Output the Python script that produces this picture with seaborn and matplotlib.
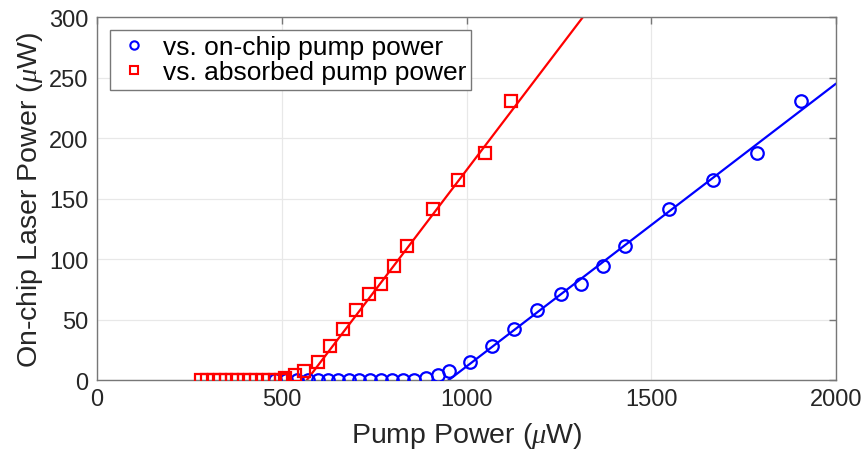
import numpy as np
import matplotlib
matplotlib.use("Agg")
import matplotlib.pyplot as plt
from matplotlib.lines import Line2D
import seaborn as sns

onchip_pump = [482, 512, 541, 570, 599, 625, 652, 681, 710, 739, 769, 798, 828, 857,
               891, 924, 953, 1010, 1070, 1129, 1191, 1256, 1310, 1369, 1430, 1548,
               1667, 1785, 1905]
absorbed_pump = [281, 298, 316, 332, 349, 364, 380, 397, 414, 431, 448, 465, 482, 499,
                 509, 535, 560, 598, 631, 667, 701, 736, 769, 805, 839, 909,
                 978, 1051, 1120]
laser_power = [0, 0, 0, 0, 0, 0, 0, 0, 0, 0, 0, 0, 0, 0,
               2, 4.5, 7.5, 14.5, 28, 42, 57.5, 71, 79, 94, 111, 141,
               165, 188, 231]

# linear fits above threshold (two end points each)
onchip_fit_x = [940, 2000]
onchip_fit_y = [-2.8, 245]
absorbed_fit_x = [555, 1330]
absorbed_fit_y = [-5.2, 306]

x_ticks = [0, 500, 1000, 1500, 2000]
y_ticks = [0, 50, 100, 150, 200, 250, 300]

sns.set_theme(style="whitegrid")
plt.rcParams['font.family'] = ['Liberation Sans', 'DejaVu Sans']
plt.rcParams['mathtext.fontset'] = 'custom'
plt.rcParams['mathtext.it'] = 'Liberation Serif:italic'

fig = plt.figure(figsize=(8.64, 4.52), dpi=100)
ax = fig.add_axes([0.1123, 0.157, 0.8553, 0.803])

text_col = '#262626'
edge_col = '#777777'

sns.lineplot(x=onchip_fit_x, y=onchip_fit_y, color='#0000ff', linewidth=1.6, ax=ax)
sns.lineplot(x=absorbed_fit_x, y=absorbed_fit_y, color='#ff0000', linewidth=1.6, ax=ax)

sns.lineplot(x=onchip_pump, y=laser_power, marker='o', linestyle='none',
             markersize=9, markerfacecolor='none', markeredgecolor='#0000ff',
             markeredgewidth=1.6, color='#0000ff', ax=ax, zorder=3)
sns.lineplot(x=absorbed_pump, y=laser_power, marker='s', linestyle='none',
             markersize=8, markerfacecolor='none', markeredgecolor='#ff0000',
             markeredgewidth=1.6, color='#ff0000', ax=ax, zorder=3)

ax.set_xlim(0, 2000)
ax.set_ylim(0, 300)
ax.set_xticks(x_ticks)
ax.set_yticks(y_ticks)
ax.grid(True, color='#e8e8e8', linewidth=0.9)
ax.set_facecolor('white')
for sp in ax.spines.values():
    sp.set_visible(True)
    sp.set_color(edge_col)
    sp.set_linewidth(1.0)
ax.tick_params(direction='in', length=5, width=1, color=edge_col,
               top=True, right=True, labelsize=17, labelcolor=text_col, pad=6)

ax.set_xlabel("Pump Power ($\\mu$W)", fontsize=20.5, color=text_col, labelpad=7)
ax.set_ylabel("On-chip Laser Power ($\\mu$W)", fontsize=20.5, color=text_col, labelpad=3)

handles = [
    Line2D([], [], marker='o', linestyle='none', markersize=6, markerfacecolor='none',
           markeredgecolor='#0000ff', markeredgewidth=1.5),
    Line2D([], [], marker='s', linestyle='none', markersize=5.5, markerfacecolor='none',
           markeredgecolor='#ff0000', markeredgewidth=1.5),
]
leg = ax.legend(handles, ['vs. on-chip pump power', 'vs. absorbed pump power'],
                loc='upper left', bbox_to_anchor=(0.0175, 0.965), fontsize=19,
                frameon=True, fancybox=False, edgecolor=edge_col, framealpha=1,
                handlelength=1.4, handletextpad=0.4, borderpad=0.2,
                labelspacing=0.05, borderaxespad=0)
leg.get_frame().set_linewidth(1.0)
for t in leg.get_texts():
    t.set_color('black')

plt.savefig("out.png", dpi=100)
